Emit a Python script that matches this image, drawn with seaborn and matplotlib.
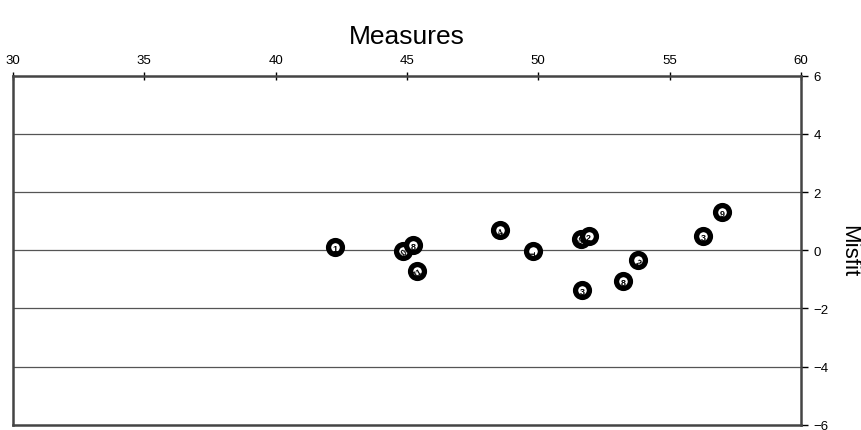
import matplotlib
matplotlib.use("Agg")
import matplotlib.pyplot as plt
import seaborn as sns
import pandas as pd

# values
measures = [42.26, 44.85, 45.23, 45.38, 48.54, 49.80, 51.62, 51.92, 51.66, 53.22, 53.79, 56.27, 56.99]
misfit = [0.10, -0.03, 0.17, -0.72, 0.68, -0.03, 0.40, 0.50, -1.37, -1.06, -0.34, 0.48, 1.30]
labels = ["1", "10", "8", "11", "4", "1", "10", "2", "3", "8", "2", "3", "9"]
label_rot = [0, 40, 0, 30, 20, 90, 40, 0, 0, 0, -30, 0, 0]

x_ticks = [30, 35, 40, 45, 50, 55, 60]
y_ticks = [-6, -4, -2, 0, 2, 4, 6]

df = pd.DataFrame({"Measures": measures, "Misfit": misfit, "label": labels, "rot": label_rot})

sns.set_style("white")
plt.rcParams['font.family'] = ['Liberation Sans', 'DejaVu Sans']

fig = plt.figure(figsize=(8.62, 4.31), dpi=100)
ax = fig.add_axes([0.0151, 0.012, 0.914, 0.81])

for yv in [-4, -2, 0, 2, 4]:
    ax.axhline(yv, color="#555555", lw=0.9, zorder=1)

sns.scatterplot(data=df, x="Measures", y="Misfit", ax=ax, s=100,
                facecolor="white", edgecolor="black", linewidth=3.8, zorder=3, legend=False)
for _, r in df.iterrows():
    ax.text(r["Measures"], r["Misfit"] - 0.05, r["label"], fontsize=6.5, fontweight="bold",
            ha="center", va="center", rotation=r["rot"], color="black", zorder=4)

ax.set_xlim(30, 60)
ax.set_ylim(-6, 6)
ax.set_xticks(x_ticks)
ax.set_yticks(y_ticks)
ax.set_yticklabels([str(v).replace("-", "\u2212") for v in y_ticks])
ax.xaxis.tick_top()
ax.yaxis.tick_right()
ax.xaxis.set_label_position("top")
ax.yaxis.set_label_position("right")
ax.tick_params(axis="x", direction="inout", length=6, width=1, labelsize=9.5, pad=4, colors="black")
ax.tick_params(axis="y", direction="out", length=5, width=1, labelsize=9.5, pad=4, colors="black")
ax.set_xlabel("Measures", fontsize=19, labelpad=8, color="black")
ax.set_ylabel("Misfit", fontsize=16, rotation=270, labelpad=22, color="black")

for sp in ax.spines.values():
    sp.set_color("#444444")
    sp.set_linewidth(1.8)

fig.savefig("out.png", dpi=100)
